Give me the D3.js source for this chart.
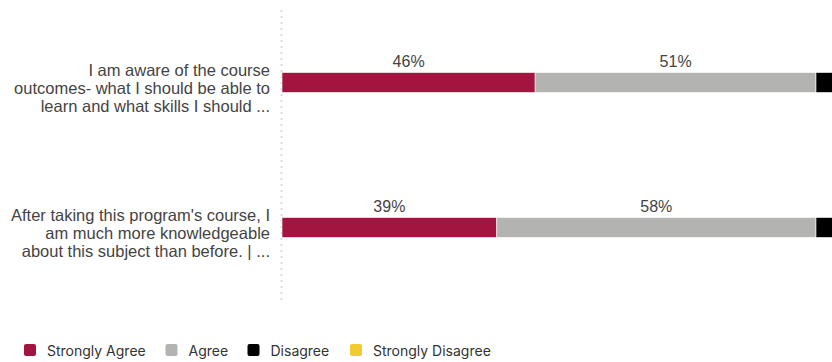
<!DOCTYPE html>
<html>
<head>
<meta charset="utf-8">
<script src="https://cdn.jsdelivr.net/npm/d3@7"></script>
<style>
  html, body { margin: 0; padding: 0; background: #fff; }
  svg { display: block; }
</style>
</head>
<body>
<svg id="chart" width="832" height="362"></svg>
<script>
// Survey statements (each wrapped over three lines)
const questions = [
  ["I am aware of the course", "outcomes- what I should be able to", "learn and what skills I should ..."],
  ["After taking this program's course, I", "am much more knowledgeable", "about this subject than before. | ..."]
];
const responses = ["Strongly Agree", "Agree", "Disagree", "Strongly Disagree"];
const colors = ["#A31441", "#B3B4B2", "#000000", "#F2CB2E"];
// Percent of respondents per response, one array per statement
const stronglyAgree = [46, 39];
const agree = [51, 58];
const disagree = [3, 3];
const stronglyDisagree = [0, 0];

const rows = questions.map((q, i) => ({
  key: i,
  "Strongly Agree": stronglyAgree[i],
  "Agree": agree[i],
  "Disagree": disagree[i],
  "Strongly Disagree": stronglyDisagree[i]
}));

const svg = d3.select("#chart");
const x = d3.scaleLinear().domain([0, 100]).range([282, 832.5]);
const y = d3.scaleBand().domain(d3.range(questions.length)).range([10, 300]).paddingInner(0.86).paddingOuter(0.43);
const color = d3.scaleOrdinal().domain(responses).range(colors);

// Dotted baseline
svg.append("line")
  .attr("x1", x(0) - 0.5).attr("x2", x(0) - 0.5)
  .attr("y1", 10).attr("y2", 302)
  .attr("stroke", "#dcdcdc").attr("stroke-width", 2)
  .attr("stroke-dasharray", "2,4");

const stack = d3.stack().keys(responses)(rows);

const bh = 20;
const layers = svg.append("g").selectAll("g").data(stack).join("g")
  .attr("fill", d => color(d.key));

layers.selectAll("rect").data(d => d.filter(s => s[1] - s[0] > 0)).join("rect")
  .attr("x", d => x(d[0]))
  .attr("width", d => x(d[1]) - x(d[0]))
  .attr("y", d => y(d.data.key) + y.bandwidth() / 2 - bh / 2)
  .attr("height", bh)
  .attr("stroke", "rgba(255,255,255,0.6)")
  .attr("stroke-width", 1);

// Percent labels above the two largest segments
const labelled = ["Strongly Agree", "Agree"];
stack.filter(s => labelled.includes(s.key)).forEach(s => {
  svg.append("g").selectAll("text").data(s).join("text")
    .attr("x", d => (x(d[0]) + x(d[1])) / 2)
    .attr("y", d => y(d.data.key) + y.bandwidth() / 2 - bh / 2 - 6)
    .attr("text-anchor", "middle")
    .attr("font-family", "'Liberation Sans', Arial, sans-serif")
    .attr("font-size", 16)
    .attr("fill", "#444")
    .text(d => Math.round(d[1] - d[0]) + "%");
});

// Category labels
const cat = svg.append("g").selectAll("text").data(questions).join("text")
  .attr("text-anchor", "end")
  .attr("font-family", "'Liberation Sans', Arial, sans-serif")
  .attr("font-size", 16.5)
  .attr("fill", "#444");
cat.each(function(lines, i) {
  const cy = y(i) + y.bandwidth() / 2;
  d3.select(this).selectAll("tspan").data(lines).join("tspan")
    .attr("x", 270)
    .attr("y", (d, j) => cy - 7 + j * 18.3)
    .text(d => d);
});

// Legend
const legendX = [24, 165.5, 247.5, 350];
const lg = svg.append("g").selectAll("g").data(responses).join("g")
  .attr("transform", (d, i) => `translate(${legendX[i]},344)`);
lg.append("rect").attr("width", 12).attr("height", 12).attr("rx", 2)
  .attr("fill", d => color(d));
lg.append("text").attr("x", 23).attr("y", 12)
  .attr("font-family", "Inter, Roboto, sans-serif")
  .attr("font-size", 14)
  .attr("fill", "#333")
  .text(d => d);
</script>
</body>
</html>
